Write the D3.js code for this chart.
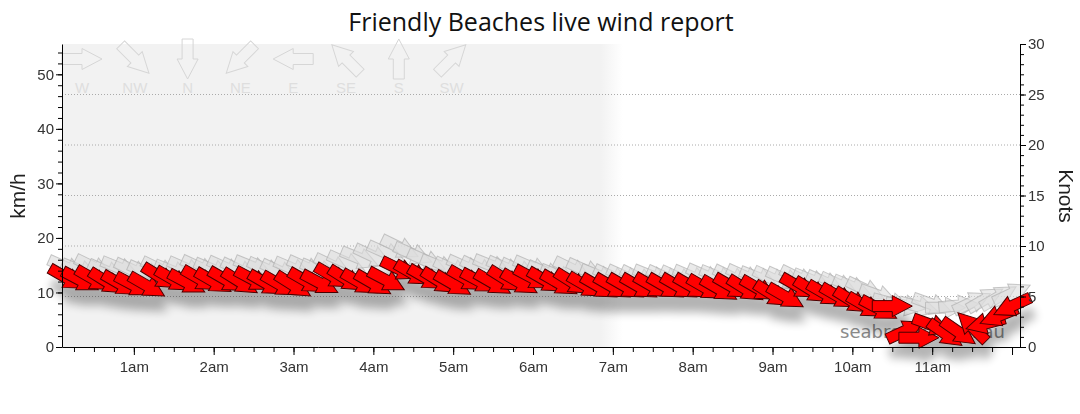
<!DOCTYPE html>
<html><head><meta charset="utf-8">
<script src="https://cdn.jsdelivr.net/npm/d3@7"></script>
<style>body{margin:0;background:#fff}svg{display:block}</style>
</head><body>
<svg id="c" width="1080" height="414"></svg>
<script>
const title = "Friendly Beaches live wind report";
const watermark = "seabreeze.com.au";
const times = ["00:10","00:20","00:30","00:40","00:50","01:00","01:10","01:20","01:30","01:40","01:50","02:00",
"02:10","02:20","02:30","02:40","02:50","03:00","03:10","03:20","03:30","03:40","03:50","04:00",
"04:10","04:20","04:30","04:40","04:50","05:00","05:10","05:20","05:30","05:40","05:50","06:00",
"06:10","06:20","06:30","06:40","06:50","07:00","07:10","07:20","07:30","07:40","07:50","08:00",
"08:10","08:20","08:30","08:40","08:50","09:00","09:10","09:20","09:30","09:40","09:50","10:00",
"10:10","10:20","10:30","10:40","10:50","11:00","11:10","11:20","11:30","11:40","11:50","12:00"];
const speedKmh = [12.6,12.2,12.4,11.9,11.5,11.3, 11.2,12.8,12.3,11.8,12.4,12.0,
12.2,11.9,12.3,11.6,11.4,11.3, 12.0,11.7,12.9,12.4,11.8,11.6,
12.2,14.2,13.4,12.6,12.0,11.5, 12.4,12.0,11.7,12.3,11.8,12.6,
12.1,11.6,11.8,11.2,11.0,11.0, 11.0,11.0,11.1,11.0,11.0,11.0,
10.8,10.6,11.0,10.6,10.6,9.6, 9.2,11.0,10.3,9.7,9.2,8.4,
7.5,7.0,7.5,3.0,1.7,4.0, 2.4,2.7,3.7,4.3,5.7,7.5];
const dirDeg = [300,298,300,302,300,298,300,302,300,298,300,300,
300,302,298,300,300,302,300,298,300,302,300,300,
298,296,300,300,302,300,300,298,300,302,300,298,
300,300,302,300,300,300,300,300,300,300,300,300,
300,300,300,302,300,302,300,300,302,300,300,302,
300,298,270,245,270,290,305,305,135,75,68,65];
const gustKmh = [14.5,14.0,14.6,13.8,14.4,14.0, 13.6,14.2,13.8,14.3,14.5,14.1,
14.4,14.0,14.6,14.2,13.8,14.3, 14.5,14.0,14.8,15.4,16.2,16.6,
17.2,18.2,17.0,15.8,14.8,14.2, 14.6,14.3,14.8,14.4,14.0,14.5,
13.6,13.0,14.2,14.0,13.0,12.8, 12.8,12.6,12.9,12.7,12.6,12.8,
13.0,12.8,12.7,12.9,12.6,12.5, 12.4,12.6,12.2,11.8,11.4,11.0,
10.5,9.4,8.0,7.6,7.4,7.8, 7.2,7.6,8.2,8.8,9.2,9.8];
const gustDirDeg = [294,292,296,294,292,295,294,296,292,294,295,293,
294,296,292,294,295,293,294,292,296,294,292,295,
294,296,293,294,292,295,294,296,292,294,295,293,
294,292,296,294,292,295,294,296,292,294,295,293,
294,292,296,294,292,295,294,296,292,294,295,293,
295,290,285,280,285,290,270,265,245,240,240,245];
const compassLabels = ["W","NW","N","NE","E","SE","S","SW"];
const compassDeg = [270,315,0,45,90,135,180,225];
const kmhMajor = [0,10,20,30,40,50];
const knotMajor = [0,5,10,15,20,25,30];
const hourTicks = ["01:00","02:00","03:00","04:00","05:00","06:00","07:00","08:00","09:00","10:00","11:00","12:00"];
const hourLabels = ["1am","2am","3am","4am","5am","6am","7am","8am","9am","10am","11am",""];
const nightEnd = "07:00";
const KMH_PER_KNOT = 1.852;

const svg = d3.select("#c");
const m = {l:62, r:1020, t:44, b:347};
const parse = d3.timeParse("%H:%M");
const x = d3.scaleTime().domain([parse("00:06"), parse("12:06")]).range([m.l, m.r]);
const yK = d3.scaleLinear().domain([0, 30*KMH_PER_KNOT]).range([m.b, m.t]);
const yN = d3.scaleLinear().domain([0, 30]).range([m.b, m.t]);

const defs = svg.append("defs");
const xn = x(parse(nightEnd));
const grad = defs.append("linearGradient").attr("id","night").attr("gradientUnits","userSpaceOnUse")
  .attr("x1", xn-12).attr("x2", xn+10).attr("y1",0).attr("y2",0);
grad.append("stop").attr("offset",0).attr("stop-color","#f2f2f2");
grad.append("stop").attr("offset",1).attr("stop-color","#ffffff");
svg.append("rect").attr("x",m.l).attr("y",m.t).attr("width",xn+10-m.l).attr("height",m.b-m.t).attr("fill","url(#night)");

const f = defs.append("filter").attr("id","shadow").attr("x","-20%").attr("y","-40%").attr("width","140%").attr("height","240%");
f.append("feGaussianBlur").attr("in","SourceAlpha").attr("stdDeviation",5).attr("result","b");
f.append("feOffset").attr("in","b").attr("dx",3).attr("dy",15).attr("result","o");
f.append("feComponentTransfer").attr("in","o").attr("result","s").append("feFuncA").attr("type","linear").attr("slope",0.3);
const fm = f.append("feMerge");
fm.append("feMergeNode").attr("in","s");
fm.append("feMergeNode").attr("in","SourceGraphic");

svg.append("g").selectAll("line").data(knotMajor.filter(d=>d>0 && d<30)).join("line")
  .attr("x1",m.l).attr("x2",m.r).attr("y1",d=>yN(d)).attr("y2",d=>yN(d))
  .attr("stroke","#aaa").attr("stroke-dasharray","1,2").attr("stroke-width",1);

const arrowPath = "M-20,-5.5L0,-5.5L0,-10.5L20,0L0,10.5L0,5.5L-20,5.5Z";
const rot = d => d + 180 - 90;

const lg = svg.append("g");
compassLabels.forEach((lab,i)=>{
  const cx = 82 + i*52.8;
  lg.append("path").attr("d",arrowPath).attr("transform",`translate(${cx},59) rotate(${rot(compassDeg[i])})`)
    .attr("fill","none").attr("stroke","#d6d6d6").attr("stroke-width",1);
  lg.append("text").attr("x",cx).attr("y",93).attr("text-anchor","middle")
    .attr("font-family","Liberation Sans, Arial, sans-serif").attr("font-size",15).attr("fill","#dedede").text(lab);
});

svg.append("text").attr("x",840).attr("y",338).attr("font-family","DejaVu Sans, Verdana, sans-serif")
  .attr("font-size",18).attr("fill","#8c8c8c").text(watermark);

const data = times.map((t,i)=>({t:parse(t), s:speedKmh[i], d:dirDeg[i], g:gustKmh[i], gd:gustDirDeg[i]}));

svg.append("g").selectAll("path").data(data).join("path").attr("d",arrowPath)
  .attr("transform",d=>`translate(${x(d.t)},${yK(d.g)}) rotate(${rot(d.gd)})`)
  .attr("fill","#dcdcdc").attr("fill-opacity",0.6).attr("stroke","#b0b0b0").attr("stroke-opacity",0.7).attr("stroke-width",1);

svg.append("g").attr("filter","url(#shadow)").selectAll("path").data(data).join("path").attr("d",arrowPath)
  .attr("transform",d=>`translate(${x(d.t)},${yK(d.s)}) rotate(${rot(d.d)})`)
  .attr("fill","#ff0000").attr("stroke","#4a0000").attr("stroke-width",1);

const font = "Liberation Sans, Arial, sans-serif";
function styleAxis(g){ g.selectAll("text").attr("font-family",font).attr("font-size",15).attr("fill","#333");
  g.selectAll("line,path").attr("stroke","#000"); }
const kmhMinor = d3.range(0, 56, 2);
svg.append("g").attr("transform",`translate(${m.l},0)`).call(d3.axisLeft(yK).tickValues(kmhMinor).tickSize(4).tickSizeOuter(0).tickFormat(""))
  .call(styleAxis);
svg.append("g").attr("transform",`translate(${m.l},0)`).call(d3.axisLeft(yK).tickValues(kmhMajor).tickSize(6).tickSizeOuter(0).tickPadding(2))
  .call(styleAxis).call(g=>g.select(".domain").remove());
svg.append("g").attr("transform",`translate(${m.r},0)`).call(d3.axisRight(yN).tickValues(d3.range(0,31,1)).tickSize(4).tickSizeOuter(0).tickFormat(""))
  .call(styleAxis);
svg.append("g").attr("transform",`translate(${m.r},0)`).call(d3.axisRight(yN).tickValues(knotMajor).tickSize(6).tickSizeOuter(0).tickPadding(2))
  .call(styleAxis).call(g=>g.select(".domain").remove());

const minorT = d3.timeMinute.every(15).range(parse("00:15"), parse("12:01"));
svg.append("g").attr("transform",`translate(0,${m.b})`).call(d3.axisBottom(x).tickValues(minorT).tickSize(5).tickSizeOuter(0).tickFormat(""))
  .call(styleAxis);
svg.append("g").attr("transform",`translate(0,${m.b})`).call(d3.axisBottom(x).tickValues(hourTicks.map(parse)).tickSize(8).tickSizeOuter(0)
  .tickFormat((d,i)=>hourLabels[i]).tickPadding(6))
  .call(styleAxis).call(g=>g.select(".domain").remove());

svg.append("text").attr("x",541).attr("y",31).attr("text-anchor","middle").attr("font-family","Open Sans, sans-serif")
  .attr("font-size",25).attr("fill","#111").text(title);
svg.append("text").attr("transform","translate(25,196) rotate(-90)").attr("text-anchor","middle")
  .attr("font-family",font).attr("font-size",21).attr("fill","#222").text("km/h");
svg.append("text").attr("transform","translate(1059,196) rotate(90)").attr("text-anchor","middle")
  .attr("font-family",font).attr("font-size",21).attr("fill","#222").text("Knots");
</script>
</body></html>
